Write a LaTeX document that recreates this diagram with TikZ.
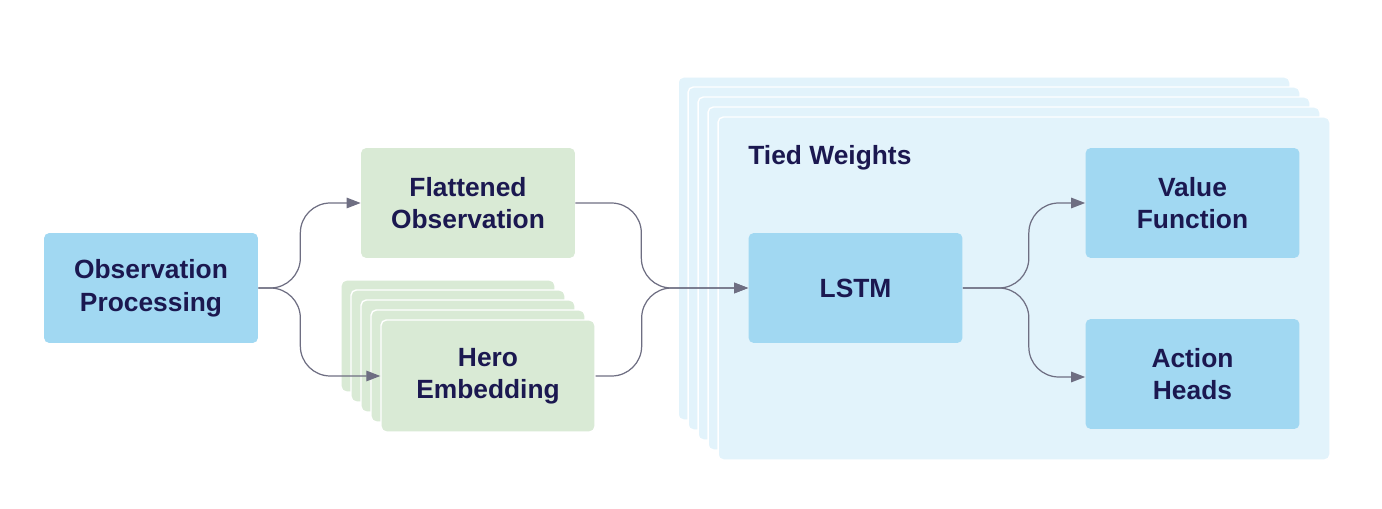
\documentclass[tikz,border=0pt]{standalone}
\usepackage{fontspec}
\setmainfont{Liberation Sans}
\usepackage{tikz}
\usepackage{xcolor}
\usetikzlibrary{arrows.meta, positioning, calc}
\definecolor{boxblue}{RGB}{161,216,242}
\definecolor{boxgreen}{RGB}{217,234,213}
\definecolor{tiedbg}{RGB}{226,243,251}
\definecolor{inkblue}{RGB}{27,24,80}
\definecolor{wiregray}{RGB}{110,110,130}

\begin{document}
\begin{tikzpicture}[x=0.02cm, y=-0.02cm,
    blk/.style={rectangle, rounded corners=3pt,
                fill=boxblue, minimum width=4.28cm,
                minimum height=2.2cm, align=center,
                text=inkblue, inner sep=0pt,
                font=\fontsize{15}{18.5}\selectfont\bfseries},
    grn/.style={blk, fill=boxgreen},
    herocard/.style={grn, draw=white, line width=0.8pt,
                     minimum height=2.24cm},
    tiedcard/.style={rectangle, rounded corners=3pt,
                     fill=tiedbg, draw=white, line width=0.8pt,
                     minimum width=12.24cm, minimum height=6.86cm,
                     inner sep=0pt},
    arr/.style={-{Triangle[length=2.8mm,width=2.1mm]},
                draw=wiregray, line width=0.7pt,
                rounded corners=0.6cm}
]
    \useasboundingbox (0,0) rectangle (1382,509);

    % tied weights stack
    \foreach \i in {4,...,1}
        \node[tiedcard] (tied\i) at ({1024-10*\i},{288.5-10*\i}) {};
    \node[tiedcard] (tied) at (1024,288.5) {};
    \node[anchor=west, text=inkblue, inner sep=0pt,
          font=\fontsize{15}{18.5}\selectfont\bfseries] (tw) at (748,158)
        {Tied Weights};

    % hero embedding stack
    \foreach \i in {4,...,1}
        \node[herocard] (hero\i) at ({488-10*\i},{376-10*\i}) {};
    \node[herocard] (hero) at (488,376) {Hero\\Embedding};

    \node[blk] (obs)  at (151,288)    {Observation\\Processing};
    \node[grn] (flat) at (468,203)    {Flattened\\Observation};
    \node[blk] (lstm) at (855.5,288)  {LSTM};
    \node[blk] (val)  at (1192.5,203) {Value\\Function};
    \node[blk] (act)  at (1192.5,374) {Action\\Heads};

    \draw[arr]  (obs.east)  -- ++(42,0) |- (flat.west);
    \draw[arr]  (obs.east)  -- ++(42,0) |- (hero.west);
    \draw[arr]  (flat.east) -- ++(66,0) |- (lstm.west);
    \draw[arr]  (hero.east) -- ++(46,0) |- (lstm.west);
    \draw[arr]  (lstm.east) -- ++(66,0) |- (val.west);
    \draw[arr]  (lstm.east) -- ++(66,0) |- ([yshift=-0.06cm]act.west);
\end{tikzpicture}
\end{document}
